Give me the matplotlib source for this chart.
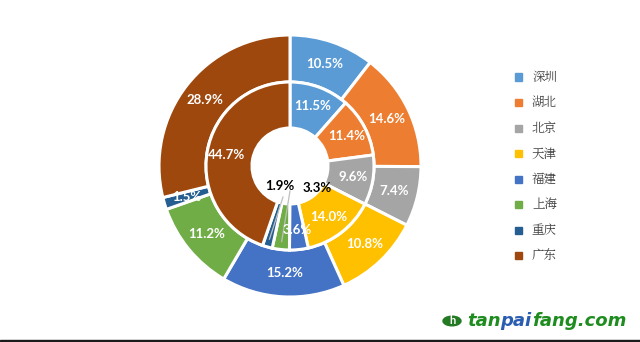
import matplotlib
matplotlib.use("Agg")
import matplotlib.pyplot as plt
from matplotlib.patches import Wedge, Circle, Rectangle
import numpy as np

regions = ["深圳", "湖北", "北京", "天津", "福建", "上海", "重庆", "广东"]
outer_vals = [10.5, 14.6, 7.4, 10.8, 15.2, 11.2, 1.5, 28.9]
inner_vals = [11.5, 11.4, 9.6, 14.0, 3.6, 3.3, 1.9, 44.7]
colors = ["#5B9BD5", "#ED7D31", "#A5A5A5", "#FFC000", "#4472C4", "#70AD47", "#255E91", "#9E480E"]

plt.rcParams['font.family'] = ['Lato', 'DejaVu Sans']

W, H = 640, 342
fig = plt.figure(figsize=(W / 100, H / 100), dpi=100)

cx, cy, R = 290, 166, 131
size = 2 * R + 4
ax = fig.add_axes([(cx - size / 2) / W, (H - cy - size / 2) / H, size / W, size / H])
ax.set_aspect('equal')
ax.axis('off')

r_out, r_mid, r_hole = 131, 84, 38

outer_w, _ = ax.pie(outer_vals, radius=r_out, colors=colors, startangle=90, counterclock=False,
                    wedgeprops=dict(width=r_out - r_mid, edgecolor='white', linewidth=2.2))
inner_w, _ = ax.pie(inner_vals, radius=r_mid, colors=colors, startangle=90, counterclock=False,
                    wedgeprops=dict(width=r_mid - r_hole, edgecolor='white', linewidth=2.2))
ax.set_xlim(-size / 2, size / 2)
ax.set_ylim(-size / 2, size / 2)

def mid_angle(w):
    return np.deg2rad((w.theta1 + w.theta2) / 2)

lab_kw = dict(ha='center', va='center', fontsize=9.5, fontweight='bold', color='white')
for w, v in zip(outer_w, outer_vals):
    a = mid_angle(w)
    r = (r_out + r_mid) / 2
    ax.text(r * np.cos(a), r * np.sin(a), f"{v:.1f}%", **lab_kw)

for i, (w, v) in enumerate(zip(inner_w, inner_vals)):
    a = mid_angle(w)
    if regions[i] in ("上海", "重庆"):
        continue
    r = (r_mid + r_hole) / 2 + 3
    ax.text(r * np.cos(a), r * np.sin(a), f"{v:.1f}%", **lab_kw)

for name, (tx, ty), (lx, ly) in [("重庆", (-10, -20), (-7, -31)), ("上海", (27, -22), (0, -25))]:
    i = regions.index(name)
    w = inner_w[i]
    a = mid_angle(w)
    r = r_mid - 8
    ax.plot([lx, r * np.cos(a)], [ly, r * np.sin(a)], color='#BFBFBF', lw=0.9)
    ax.text(tx, ty, f"{inner_vals[i]:.1f}%", ha='center', va='center', fontsize=9.5,
            fontweight='bold', color='black')

# legend
lx_sq, lx_txt = 518, 532
y0, dy = 77, 25.5
for k, (name, c) in enumerate(zip(regions, colors)):
    y = y0 + k * dy
    fig.patches.append(Rectangle(((lx_sq - 3.5) / W, (H - y - 3.5) / H), 7 / W, 7 / H,
                                 transform=fig.transFigure, color=c, figure=fig))
    fig.text(lx_txt / W, (H - y) / H, name, ha='left', va='center', fontsize=9,
             color='#404040', family=['Noto Serif CJK SC', 'Noto Sans CJK SC', 'DejaVu Sans'])

# watermark
fig.patches.append(Circle((452 / W, (H - 321) / H), 9 / W, transform=fig.transFigure,
                          color='#237A23', figure=fig))
fig.text(452 / W, (H - 321) / H, "h", ha='center', va='center', fontsize=8,
         fontweight='bold', color='white')
t1 = fig.text(467 / W, (H - 321) / H, "tan", ha='left', va='center', fontsize=13,
              fontweight='bold', style='italic', color='#1E8C1E', family='DejaVu Sans')
fig.canvas.draw()
r = fig.canvas.get_renderer()
bb = t1.get_window_extent(r)
t2 = fig.text(bb.x1 / W, (H - 321) / H, "pai", ha='left', va='center', fontsize=13,
              fontweight='bold', style='italic', color='#2A5DB0', family='DejaVu Sans')
bb2 = t2.get_window_extent(r)
fig.text(bb2.x1 / W, (H - 321) / H, "fang.com", ha='left', va='center', fontsize=13,
         fontweight='bold', style='italic', color='#1E8C1E', family='DejaVu Sans')

fig.patches.append(Rectangle((0, 0), 1, 2 / H, transform=fig.transFigure, color='#1a1a1a', figure=fig))

fig.savefig("out.png", dpi=100, facecolor='white')
